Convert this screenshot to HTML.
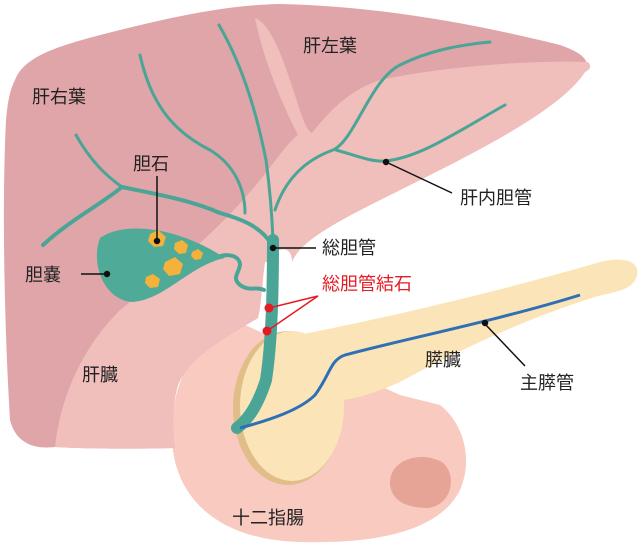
<!DOCTYPE html>
<html><head><meta charset="utf-8"><style>
body{margin:0;background:#fff}
svg{display:block}
text{font-family:"Liberation Sans","Noto Sans CJK JP",sans-serif;font-size:18px;fill:#222}
</style></head><body>
<svg width="640" height="544" viewBox="0 0 640 544">
<!-- duodenum -->
<path d="M245,325 C195,335 170,380 172,440 C175,500 220,540 300,542 C380,544 440,530 460,490 C475,455 460,420 440,405 L400,395 Z" fill="#f9cabf"/>
<path d="M390,485 C388,460 420,450 442,462 C458,475 452,505 428,508 C405,508 392,500 390,485Z" fill="#e6a496"/>
<!-- pancreas -->
<ellipse cx="288" cy="408" rx="55" ry="77" fill="#e1bd8a"/>
<ellipse cx="292" cy="406" rx="52" ry="75" fill="#fbe4b8"/>
<path d="M270,340 C330,330 470,300 600,262 C625,256 640,262 637,275 C634,290 615,292 595,297 C520,320 440,360 400,382 C360,400 330,405 300,400 Z" fill="#fbe4b8"/>
<!-- liver -->
<path d="M15,80 C25,55 60,45 120,30 C180,15 230,5 280,4 C380,6 480,25 560,45 C580,52 592,60 585,72 C560,110 480,150 400,190 C340,220 300,240 292,262 L265,262 C262,280 262,300 258,318 C230,335 190,355 178,385 C172,405 172,430 175,448 C130,449 90,449 55,447 C30,450 15,440 10,420 C4,320 2,200 6,120 C8,100 10,90 15,80Z" fill="#dfa5a8"/>
<path d="M55,447 C60,400 80,350 120,310 C170,270 220,230 260,180 C280,155 290,140 298,135 C280,100 262,55 255,18 C268,22 280,50 290,80 C300,110 305,130 312,133 C330,110 350,90 380,80 C450,65 540,60 588,62 C592,66 590,70 585,72 C560,110 480,150 400,190 C340,220 300,240 292,262 L265,262 C262,280 262,300 258,318 C230,335 190,355 178,385 C172,405 172,430 175,448 C130,449 90,449 55,447Z" fill="#f0bebb"/>
<path d="M268,262 C278,244 292,246 292,262 C290,280 280,290 268,282Z" fill="#fff"/>
<!-- ducts -->
<g fill="none" stroke="#4aa596" stroke-linecap="round">
<path d="M219,25 C245,70 258,120 266,160 C270,190 272,215 273,240" stroke-width="3"/>
<path d="M275,210 C285,180 305,160 333,150 C355,140 370,80 400,65 C430,50 460,45 490,42" stroke-width="3"/>
<path d="M336,150 C355,155 370,162 385,161 C420,158 460,130 505,105" stroke-width="3"/>
<path d="M140,55 C150,100 170,130 210,150 C235,165 245,190 245,213" stroke-width="3"/>
<path d="M43,245 C70,220 100,205 122,187 C160,195 190,200 220,213 C245,220 262,228 272,245" stroke-width="4"/>
<path d="M76,135 C90,160 105,175 122,187" stroke-width="3"/>
<path d="M273,240 C273,290 272,340 266,380 C258,405 248,420 237,428" stroke-width="12"/>
<path d="M215,258 C228,252 240,256 240,265 C238,275 232,278 240,285 C250,292 256,286 264,290" stroke-width="4"/>
</g>
<!-- gallbladder -->
<path d="M100,238 C125,220 180,228 225,258 C190,265 165,300 132,302 C105,300 90,265 100,238Z" fill="#4fab97"/>
<g fill="#f5b23a">
<polygon points="150,234 158,230 166,237 163,246 154,247 148,241"/>
<polygon points="175,243 182,240 188,245 186,253 179,254 174,249"/>
<polygon points="165,262 175,257 183,264 180,274 169,276 163,269"/>
<polygon points="146,277 153,274 160,279 158,287 150,288 145,283"/>
<polygon points="192,252 198,249 203,253 201,259 195,260 191,256"/>
</g>
<!-- blue pancreatic duct -->
<path d="M240,428 C270,420 300,410 315,395 C330,375 330,360 345,355 C400,340 500,320 580,295" fill="none" stroke="#2f6fb5" stroke-width="3"/>
<!-- stones -->
<circle cx="269" cy="308" r="4.5" fill="#e51b24"/>
<circle cx="267" cy="331" r="4.5" fill="#e51b24"/>
<path d="M269,308 L318,296 L267,331" fill="none" stroke="#e51b24" stroke-width="1.5"/>
<!-- leader lines -->
<g stroke="#111" stroke-width="1.5" fill="none">
<path d="M157,176 L157,240"/><circle cx="157" cy="241" r="2.5" fill="#111"/>
<path d="M81,274 L107,274"/><circle cx="107" cy="274" r="2.5" fill="#111"/>
<path d="M274,248 L316,248"/><circle cx="273" cy="248" r="2.5" fill="#111"/>
<path d="M386,162 L452,193"/><circle cx="386" cy="162" r="2.5" fill="#111"/>
<path d="M485,324 L525,366"/><circle cx="485" cy="323" r="2.5" fill="#111"/>
</g>
<text x="303" y="52">肝左葉</text>
<text x="32" y="103">肝右葉</text>
<text x="133" y="170">胆石</text>
<text x="25" y="281">胆嚢</text>
<text x="82" y="381">肝臓</text>
<text x="460" y="204">肝内胆管</text>
<text x="322" y="254">総胆管</text>
<text x="322" y="290" style="fill:#e51b24">総胆管結石</text>
<text x="425" y="366">膵臓</text>
<text x="520" y="389">主膵管</text>
<text x="232" y="524">十二指腸</text>
</svg>
</body></html>
